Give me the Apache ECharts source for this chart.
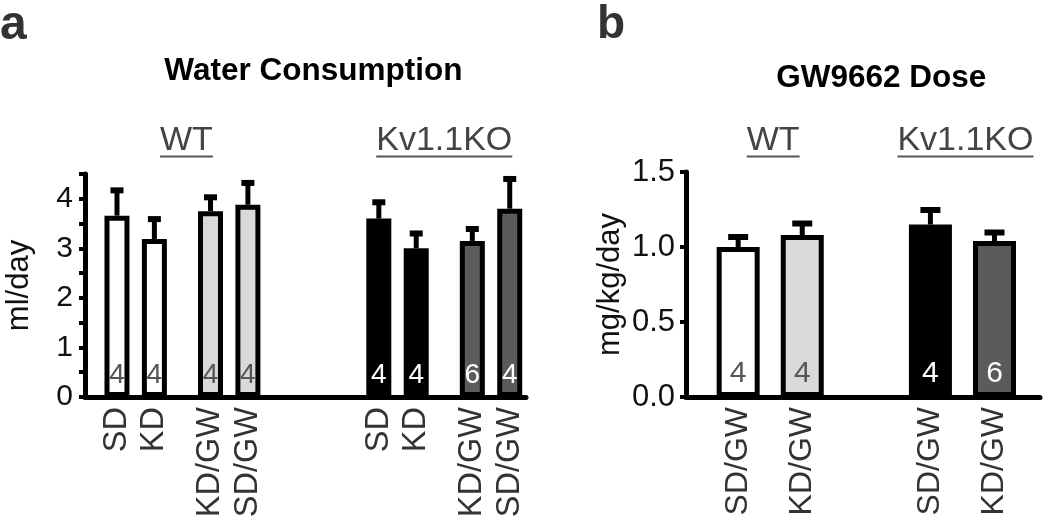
<!DOCTYPE html>
<html>
<head>
<meta charset="utf-8">
<script src="https://cdn.jsdelivr.net/npm/echarts@6/dist/echarts.min.js"></script>
<style>html,body{margin:0;padding:0;background:#fff}#c{width:1050px;height:521px}</style>
</head>
<body>
<div id="c"></div>
<script>
// ---------- DATA ----------
// Panel a: axis slots ('' = empty spacer slot)
const slotsA = ['SD','','KD','','','KD/GW','','SD/GW','','','','','','','SD','','KD','','','KD/GW','','SD/GW'];
const groupsA = ['WT','WT','WT','WT','Kv1.1KO','Kv1.1KO','Kv1.1KO','Kv1.1KO'];
const waterMean = [3.66, 3.19, 3.75, 3.88, 3.60, 3.00, 3.15, 3.80];
const waterSEM  = [0.52, 0.41, 0.29, 0.45, 0.34, 0.31, 0.25, 0.61];
const waterN    = [4, 4, 4, 4, 4, 4, 6, 4];
const yTicksA = [0, 1, 2, 3, 4];

// Panel b
const slotsB = ['SD/GW','KD/GW','','SD/GW','KD/GW'];
const groupsB = ['WT','WT','Kv1.1KO','Kv1.1KO'];
const doseMean = [1.00, 1.08, 1.15, 1.04];
const doseSEM  = [0.07, 0.08, 0.10, 0.06];
const doseN    = [4, 4, 4, 6];
const yTicksB = ['0.0','0.5','1.0','1.5'];

// ---------- STYLES ----------
const fillA = ['#ffffff','#ffffff','#d9d9d9','#d9d9d9','#000000','#000000','#5b5b5b','#5b5b5b'];
const fillB = ['#ffffff','#d9d9d9','#000000','#5b5b5b'];
const nColor = c => (c === '#000000' || c === '#5b5b5b') ? '#ffffff' : '#555555';
const FONT = '"Liberation Sans", Arial, Helvetica, sans-serif';

function slotIndex(slots){ const r=[]; slots.forEach((s,i)=>{ if(s!=='') r.push(i); }); return r; }
const posA = slotIndex(slotsA);
const posB = slotIndex(slotsB);

function barData(pos, mean, n, fill, fs){
  return mean.map((m,i)=>({
    value:[pos[i], m],
    itemStyle:{color:fill[i], borderColor:'#000', borderWidth:5},
    label:{show:true, position:'insideBottom', distance:8, formatter:String(n[i]),
           color:nColor(fill[i]), fontSize:fs, fontFamily:FONT}
  }));
}
function errSeries(xi, yi, pos, mean, sem, capW){
  return {
    type:'custom', xAxisIndex:xi, yAxisIndex:yi, z:1,
    data: mean.map((m,i)=>[pos[i], m, sem[i]]),
    renderItem:(params, api)=>{
      const x=api.value(0), m=api.value(1), e=api.value(2);
      const p0=api.coord([x,m]), p1=api.coord([x,m+e]);
      return {type:'group', children:[
        {type:'line', shape:{x1:p0[0],y1:p0[1],x2:p1[0],y2:p1[1]}, style:{stroke:'#000',lineWidth:5}},
        {type:'line', shape:{x1:p1[0]-capW/2,y1:p1[1]+0.5,x2:p1[0]+capW/2,y2:p1[1]+0.5}, style:{stroke:'#000',lineWidth:6}}
      ]};
    }
  };
}
function xAxis(gi, slots, pos, min, max, fs){
  return {
    type:'value', gridIndex:gi, min:min, max:max,
    splitLine:{show:false}, axisTick:{show:false},
    axisLine:{show:true, onZero:false, lineStyle:{color:'#000', width:5}},
    axisLabel:{customValues:pos, rotate:90, margin:10, color:'#333', fontSize:fs, fontFamily:FONT,
      formatter:v=>slots[Math.round(v)] || ''}
  };
}
function yAxis(gi, min, max, name, nameGap, nameFs, labFs, margin, fmt){
  return {
    type:'value', gridIndex:gi, min:min, max:max, interval:0.5,
    name:name, nameLocation:'middle', nameRotate:90, nameGap:nameGap,
    nameTextStyle:{fontSize:nameFs, color:'#111', fontFamily:FONT},
    splitLine:{show:false},
    axisLine:{show:true, onZero:false, lineStyle:{color:'#000', width:5}},
    axisTick:{show:true, inside:false, length:6, lineStyle:{color:'#000', width:4}},
    axisLabel:{margin:margin, fontSize:labFs, color:'#111', fontFamily:FONT, formatter:fmt}
  };
}

const chart = echarts.init(document.getElementById('c'), null, {renderer:'canvas'});
const option = {
  animation:false,
  backgroundColor:'#fff',
  grid:[
    {left:85, right:524, top:174, bottom:124},
    {left:686, right:10, top:172, bottom:124}
  ],
  xAxis:[ xAxis(0, slotsA, posA, -1.71, 21.87, 32.5), xAxis(1, slotsB, posB, -0.814, 4.71, 32) ],
  yAxis:[
    yAxis(0, 0, 4.5, 'ml/day', 50, 31, 30, 12, v=> yTicksA.indexOf(v)>=0 ? String(v) : ''),
    yAxis(1, 0, 1.5, 'mg/kg/day', 60, 31, 31, 11, v=> yTicksB[Math.round(v/0.5)] || '')
  ],
  series:[
    errSeries(0,0,posA,waterMean,waterSEM,13),
    {type:'bar', xAxisIndex:0, yAxisIndex:0, barWidth:25, z:2, data:barData(posA, waterMean, waterN, fillA, 28)},
    errSeries(1,1,posB,doseMean,doseSEM,20),
    {type:'bar', xAxisIndex:1, yAxisIndex:1, barWidth:43, z:2, data:barData(posB, doseMean, doseN, fillB, 30)}
  ]
};
chart.setOption(option);

// ---------- ANNOTATIONS (titles, group labels) ----------
const ctx = document.createElement('canvas').getContext('2d');
function textW(t, font){ ctx.font = font; return ctx.measureText(t).width; }
function groupCenters(gi, pos, groups){
  const out = {};
  groups.forEach((g,i)=>{ (out[g] = out[g] || []).push(chart.convertToPixel({xAxisIndex:gi}, pos[i])); });
  return Object.keys(out).map(k=>({name:k, x: out[k].reduce((a,b)=>a+b,0)/out[k].length}));
}
const gFont = 34;
const elements = [];
function addGroupLabels(centers, dx){
  centers.forEach((c,i)=>{
    const x = c.x + (dx[i]||0);
    const w = textW(c.name, gFont + 'px "Liberation Sans"');
    elements.push({type:'text', x:x, y:141, style:{text:c.name, fontSize:gFont, fontFamily:FONT, fill:'#444', align:'center', verticalAlign:'middle'}});
    elements.push({type:'line', shape:{x1:x-w/2, y1:156.5, x2:x+w/2, y2:156.5}, style:{stroke:'#555', lineWidth:2}});
  });
}
addGroupLabels(groupCenters(0, posA, groupsA), [4, 0]);
addGroupLabels(groupCenters(1, posB, groupsB), [3, 3]);
const midA = (chart.convertToPixel({xAxisIndex:0}, posA[0]) + chart.convertToPixel({xAxisIndex:0}, posA[posA.length-1]))/2;
const midB = (chart.convertToPixel({xAxisIndex:1}, posB[0]) + chart.convertToPixel({xAxisIndex:1}, posB[posB.length-1]))/2;
elements.push({type:'text', x:midA, y:71, style:{text:'Water Consumption', fontSize:31.5, fontWeight:'bold', fontFamily:FONT, fill:'#000', align:'center', verticalAlign:'middle'}});
elements.push({type:'text', x:midB+15, y:78, style:{text:'GW9662 Dose', fontSize:31.5, fontWeight:'bold', fontFamily:FONT, fill:'#000', align:'center', verticalAlign:'middle'}});
elements.push({type:'text', x:0, y:26, style:{text:'a', fontSize:48, fontWeight:'bold', fontFamily:FONT, fill:'#333', align:'left', verticalAlign:'middle'}});
elements.push({type:'text', x:597, y:25, style:{text:'b', fontSize:46, fontWeight:'bold', fontFamily:FONT, fill:'#333', align:'left', verticalAlign:'middle'}});
chart.setOption({graphic:{elements:elements}});
</script>
</body>
</html>
